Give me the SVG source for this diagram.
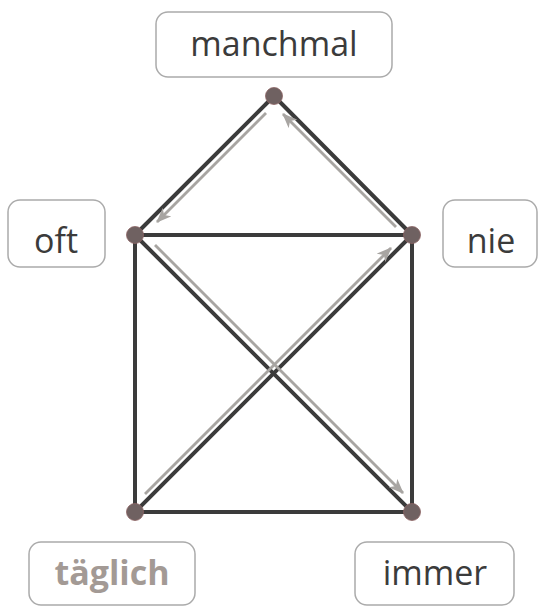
<svg xmlns="http://www.w3.org/2000/svg" width="540" height="607" viewBox="0 0 540 607">
<style>
.box{fill:#fff;stroke:#ababab;stroke-width:1.5}
.lbl{font-family:"Open Sans","Noto Sans",sans-serif;font-size:34px;fill:#3b3b3b;text-anchor:middle}
.bold{font-weight:bold;fill:#a39a95}
.edge{stroke:#3b3b3b;stroke-width:4;stroke-linecap:round;fill:none}
.path{stroke:#a8a5a2;stroke-width:2.8;fill:none}
.dot{fill:#6f6161;stroke:#8c6262;stroke-width:0.8}
</style>
<defs>
<marker id="ah" viewBox="0 0 15 12" refX="14" refY="6" markerWidth="15" markerHeight="12" markerUnits="userSpaceOnUse" orient="auto">
<path d="M0,0 L15,6 L0,12 L4,6 z" fill="#a8a5a2"/>
</marker>
</defs>
<g id="connectors">
<line class="edge" x1="274" y1="96" x2="135" y2="235"/>
<line class="edge" x1="274" y1="96" x2="412" y2="235"/>
<line class="edge" x1="135" y1="235" x2="412" y2="235"/>
<line class="edge" x1="135" y1="235" x2="135" y2="512"/>
<line class="edge" x1="412" y1="235" x2="412" y2="512"/>
<line class="edge" x1="135" y1="512" x2="412" y2="512"/>
<line class="edge" x1="135" y1="235" x2="412" y2="512"/>
<line class="edge" x1="135" y1="512" x2="412" y2="235"/>
<line class="path" x1="145" y1="494" x2="391" y2="248" marker-end="url(#ah)"/>
<line class="path" x1="396" y1="227" x2="283" y2="114" marker-end="url(#ah)"/>
<line class="path" x1="266" y1="113" x2="157" y2="222" marker-end="url(#ah)"/>
<line class="path" x1="155" y1="245" x2="403" y2="493" marker-end="url(#ah)"/>
</g>
<g id="manchmal">
<rect class="box" x="156" y="12" width="236" height="65" rx="12"/>
<text class="lbl" x="274" y="56">manchmal</text>
<circle class="dot" cx="274" cy="96" r="8.5"/>
</g>
<g id="oft">
<rect class="box" x="8" y="200" width="97" height="67" rx="12"/>
<text class="lbl" x="56" y="253">oft</text>
<circle class="dot" cx="135" cy="235" r="8.5"/>
</g>
<g id="nie">
<rect class="box" x="443" y="200" width="94" height="67" rx="12"/>
<text class="lbl" x="491" y="253">nie</text>
<circle class="dot" cx="412" cy="235" r="8.5"/>
</g>
<g id="taeglich">
<rect class="box" x="29" y="542" width="166" height="63" rx="12"/>
<text class="lbl bold" x="112" y="585">täglich</text>
<circle class="dot" cx="135" cy="512" r="8.5"/>
</g>
<g id="immer">
<rect class="box" x="355" y="542" width="159" height="63" rx="12"/>
<text class="lbl" x="435" y="585">immer</text>
<circle class="dot" cx="412" cy="512" r="8.5"/>
</g>
</svg>
